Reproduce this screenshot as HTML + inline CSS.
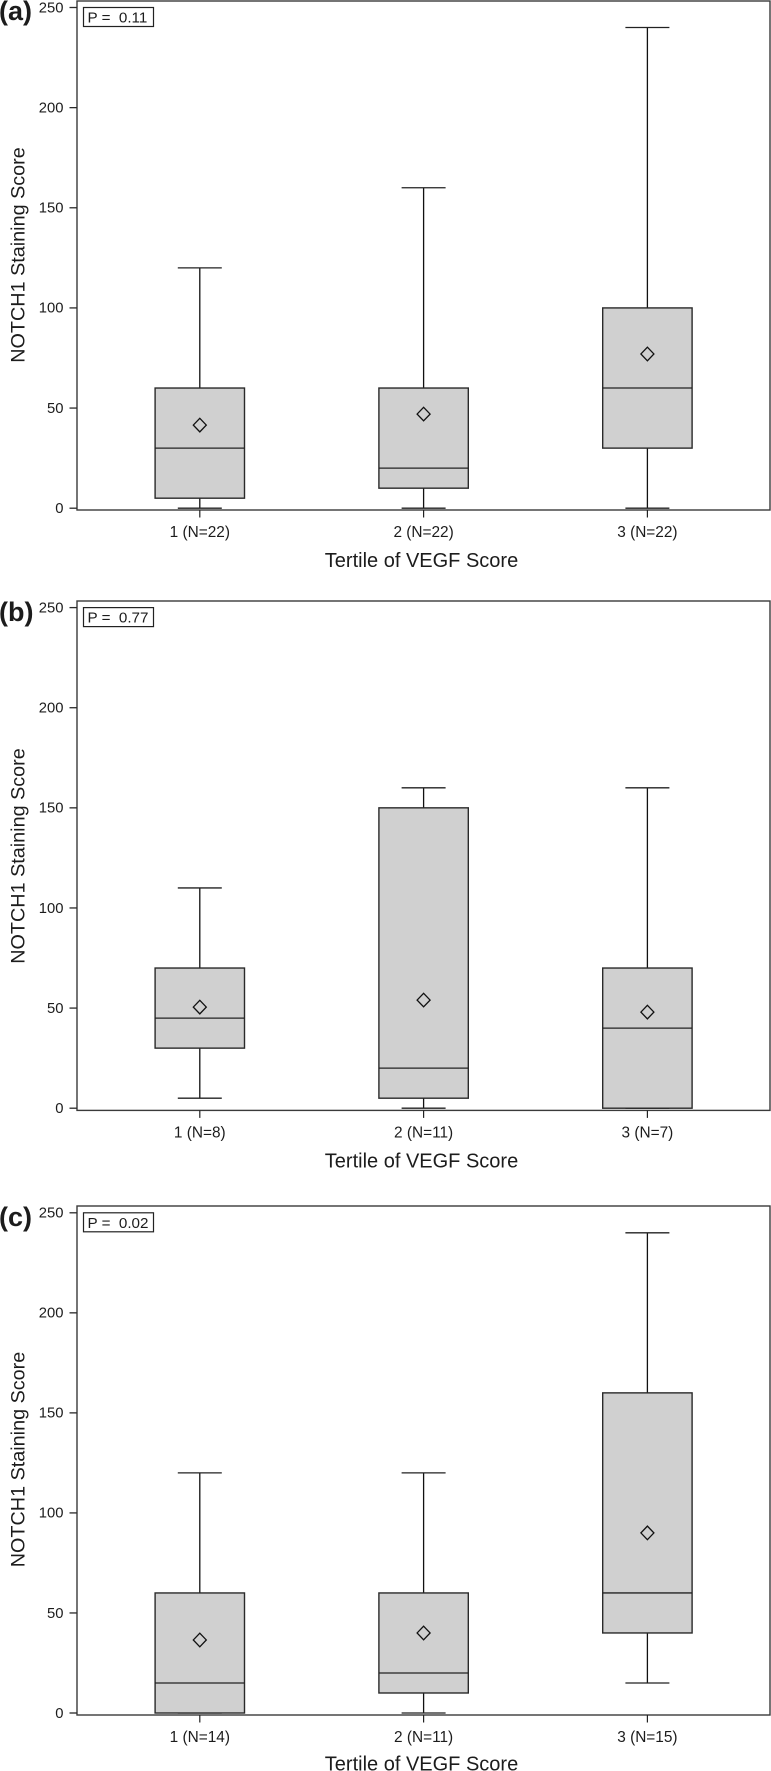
<!DOCTYPE html>
<html>
<head>
<meta charset="utf-8">
<title>NOTCH1 Staining Score by Tertile of VEGF Score</title>
<style>
html,body{margin:0;padding:0;background:#fff;}
svg{display:block;}
text{font-family:"Liberation Sans",Arial,sans-serif;fill:#1c1c1c;}
</style>
</head>
<body>
<svg id="figure" xmlns="http://www.w3.org/2000/svg" width="771" height="1771" viewBox="0 0 771 1771"></svg>
<script>
// ---- Data ----
const panelLetters = ['(a)', '(b)', '(c)'];
const pValues = ['P =  0.11', 'P =  0.77', 'P =  0.02'];
const yTicks = [0, 50, 100, 150, 200, 250];
const tertiles = ['1', '2', '3'];

const countsA = [22, 22, 22];
const whiskerLowA = [0, 0, 0];
const q1A = [5, 10, 30];
const medianA = [30, 20, 60];
const q3A = [60, 60, 100];
const whiskerHighA = [120, 160, 240];
const meanA = [41.5, 47, 77];

const countsB = [8, 11, 7];
const whiskerLowB = [5, 0, 0];
const q1B = [30, 5, 0];
const medianB = [45, 20, 40];
const q3B = [70, 150, 70];
const whiskerHighB = [110, 160, 160];
const meanB = [50.5, 54, 48];

const countsC = [14, 11, 15];
const whiskerLowC = [0, 0, 15];
const q1C = [0, 10, 40];
const medianC = [15, 20, 60];
const q3C = [60, 60, 160];
const whiskerHighC = [120, 120, 240];
const meanC = [36.5, 40, 90];

const panelSeries = [
  {counts: countsA, low: whiskerLowA, q1: q1A, med: medianA, q3: q3A, high: whiskerHighA, mean: meanA},
  {counts: countsB, low: whiskerLowB, q1: q1B, med: medianB, q3: q3B, high: whiskerHighB, mean: meanB},
  {counts: countsC, low: whiskerLowC, q1: q1C, med: medianC, q3: q3C, high: whiskerHighC, mean: meanC}
];

// ---- Layout ----
const plotLeft = 77, plotRight = 770;
const panelFrames = [
  {top: 1, bottom: 510, y0: 508.2, y250: 7.5, letterY: 20, xTitleY: 567, yTitleMid: 255},
  {top: 601, bottom: 1110.4, y0: 1108.2, y250: 607.6, letterY: 621, xTitleY: 1167.5, yTitleMid: 856},
  {top: 1206, bottom: 1715, y0: 1713, y250: 1212.8, letterY: 1226, xTitleY: 1770.5, yTitleMid: 1459.5}
];
const SVG_NS = 'http://www.w3.org/2000/svg';
const svg = document.getElementById('figure');

// ---- Axis functions ----
function xScale(index) { return 199.8 + index * 223.8; }
function yScale(frame, value) { return frame.y0 - value * (frame.y0 - frame.y250) / 250; }

function addLine(parent, name, x1, y1, x2, y2, stroke, width) {
  const el = document.createElementNS(SVG_NS, 'line');
  
  
  el.setAttribute('x1', x1);
  el.setAttribute('y1', y1);
  el.setAttribute('x2', x2);
  el.setAttribute('y2', y2);
  el.setAttribute('stroke', stroke);
  el.setAttribute('stroke-width', width);
  parent.appendChild(el);
  return el;
}
function addText(parent, name, str, x, y, size, anchor, weight) {
  const el = document.createElementNS(SVG_NS, 'text');
  
  
  el.setAttribute('x', x);
  el.setAttribute('y', y);
  el.setAttribute('font-size', size);
  el.setAttribute('text-anchor', anchor);
  el.setAttribute('xml:space', 'preserve');
  el.style.whiteSpace = 'pre';
  if (weight) el.setAttribute('font-weight', weight);
  el.textContent = str;
  parent.appendChild(el);
  return el;
}
function addRect(parent, name, x, y, w, h, fill, stroke, width) {
  const el = document.createElementNS(SVG_NS, 'rect');
  
  
  el.setAttribute('x', x);
  el.setAttribute('y', y);
  el.setAttribute('width', w);
  el.setAttribute('height', h);
  el.setAttribute('fill', fill);
  el.setAttribute('stroke', stroke);
  el.setAttribute('stroke-width', width);
  parent.appendChild(el);
  return el;
}

panelFrames.forEach(function (frame, p) {
  const series = panelSeries[p];
  const g = document.createElementNS(SVG_NS, 'g');
  
  
  svg.appendChild(g);

  addText(g, 'panel-label', panelLetters[p], -1, frame.letterY, 27, 'start', 'bold');

  addRect(g, 'plot-frame', plotLeft, frame.top, plotRight - plotLeft, frame.bottom - frame.top, '#fff', '#3a3a3a', 1.4);

  yTicks.forEach(function (t) {
    const y = yScale(frame, t);
    addLine(g, 'y-axis-tick', 69.5, y, plotLeft, y, '#2a2a2a', 1.3);
    addText(g, 'y-axis-tick-label', String(t), 63.5, y + 4.8, 14.8, 'end');
  });

  addRect(g, 'p-value-box', 83.5, frame.y250, 70, 19, '#fff', '#222', 1.2);
  addText(g, 'p-value-label', pValues[p], 87.5, frame.y250 + 15, 15.2, 'start');

  tertiles.forEach(function (cat, i) {
    const cx = xScale(i);
    const boxL = cx - 44.7, boxW = 89.4, capHalf = 22;
    const yLow = yScale(frame, series.low[i]);
    const yQ1 = yScale(frame, series.q1[i]);
    const yMed = yScale(frame, series.med[i]);
    const yQ3 = yScale(frame, series.q3[i]);
    const yHigh = yScale(frame, series.high[i]);
    const yMean = yScale(frame, series.mean[i]);

    addLine(g, 'x-axis-tick', cx, frame.bottom, cx, frame.bottom + 7.5, '#222', 1.2);
    addText(g, 'x-axis-tick-label', cat + ' (N=' + series.counts[i] + ')', cx, frame.bottom + 27, 15.4, 'middle');

    addLine(g, 'upper-whisker', cx, yHigh, cx, yQ3, '#111', 1.3);
    addLine(g, 'upper-whisker-cap', cx - capHalf, yHigh, cx + capHalf, yHigh, '#222', 1.3);
    addLine(g, 'lower-whisker', cx, yQ1, cx, yLow, '#111', 1.3);
    addLine(g, 'lower-whisker-cap', cx - capHalf, yLow, cx + capHalf, yLow, '#222', 1.3);
    addRect(g, 'box-q1-q3', boxL, yQ3, boxW, yQ1 - yQ3, '#d0d0d0', '#2a2a2a', 1.4);
    addLine(g, 'median-line', boxL, yMed, boxL + boxW, yMed, '#222', 1.3);

    const diamond = document.createElementNS(SVG_NS, 'polygon');
    
    
    diamond.setAttribute('points', [cx, yMean - 6.8, cx + 6.5, yMean, cx, yMean + 6.8, cx - 6.5, yMean].join(' '));
    diamond.setAttribute('fill', 'none');
    diamond.setAttribute('stroke', '#111');
    diamond.setAttribute('stroke-width', 1.3);
    g.appendChild(diamond);
  });

  addText(g, 'x-axis-title', 'Tertile of VEGF Score', 421.5, frame.xTitleY, 20, 'middle');
  const yTitle = addText(g, 'y-axis-title', 'NOTCH1 Staining Score', 0, 0, 19.8, 'middle');
  yTitle.setAttribute('transform', 'translate(24.5 ' + frame.yTitleMid + ') rotate(-90)');
});
</script>
</body>
</html>
